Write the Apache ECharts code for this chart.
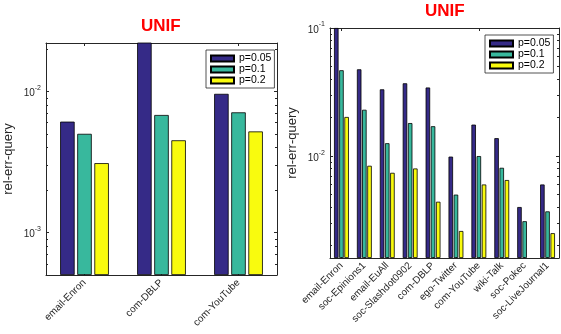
<!DOCTYPE html>
<html><head><meta charset="utf-8">
<script src="https://cdn.jsdelivr.net/npm/echarts@6/dist/echarts.min.js"></script>
<style>html,body{margin:0;padding:0;background:#fff}#c{width:561px;height:334px}</style>
</head><body><div id="c"></div>
<script>
const seriesNames = ['p=0.05', 'p=0.1', 'p=0.2'];
const leftCategories = ['email-Enron', 'com-DBLP', 'com-YouTube'];
const leftP005 = [0.0061, 0.030, 0.0096];
const leftP01 = [0.0050, 0.0068, 0.0071];
const leftP02 = [0.0031, 0.0045, 0.0052];
const rightCategories = ['email-Enron', 'soc-Epinions1', 'email-EuAll', 'soc-Slashdot0902', 'com-DBLP', 'ego-Twitter', 'com-YouTube', 'wiki-Talk', 'soc-Pokec', 'soc-LiveJournal1'];
const rightP005 = [0.1, 0.0476, 0.0332, 0.0370, 0.0343, 0.0099, 0.0176, 0.0138, 0.0040, 0.0060];
const rightP01 = [0.0468, 0.0230, 0.0126, 0.0181, 0.0171, 0.0050, 0.0100, 0.0081, 0.0031, 0.0037];
const rightP02 = [0.0202, 0.0084, 0.0074, 0.0080, 0.0044, 0.0026, 0.0060, 0.0065, 0.0015, 0.0025];
const leftYRange = [0.0005, 0.022];
const rightYRange = [0.0016, 0.1];
const titleText = 'UNIF';
const yName = 'rel-err-query';

const colors = ['#352a87', '#38b89d', '#f9fb0e'];
const axisColor = '#262626';

function powLabel(v) {
  const e = Math.log10(v);
  const r = Math.round(e);
  if (Math.abs(e - r) > 1e-6) return '';
  return '{b|10}{s|' + r + '}';
}
const richSup = {
  b: { fontSize: 10, color: axisColor, fontFamily: 'Liberation Sans', lineHeight: 14, verticalAlign: 'bottom' },
  s: { fontSize: 7, color: axisColor, fontFamily: 'Liberation Sans', lineHeight: 8, verticalAlign: 'top' }
};

function yAxes(gi, range) {
  return [{
    type: 'log', gridIndex: gi, min: range[0], max: range[1], startValue: range[0], logBase: 10,
    name: yName, nameLocation: 'middle', nameGap: 31,
    nameTextStyle: { fontSize: 13, color: axisColor, fontFamily: 'Liberation Sans' },
    axisLine: { show: true, lineStyle: { color: axisColor, width: 1 } },
    axisTick: { show: true, inside: true, length: 3, lineStyle: { color: axisColor } },
    minorTick: { show: true, splitNumber: 9, length: 2, lineStyle: { color: axisColor } },
    splitLine: { show: false }, minorSplitLine: { show: false },
    axisLabel: { formatter: powLabel, rich: richSup, margin: 5, showMinLabel: true, showMaxLabel: true }
  }, {
    type: 'log', gridIndex: gi, min: range[0], max: range[1], position: 'right', logBase: 10,
    axisLine: { show: true, lineStyle: { color: axisColor, width: 1 } },
    axisTick: { show: true, inside: true, length: 3, lineStyle: { color: axisColor } },
    minorTick: { show: true, splitNumber: 9, length: 2, lineStyle: { color: axisColor } },
    splitLine: { show: false }, minorSplitLine: { show: false },
    axisLabel: { show: false }
  }];
}
function xAxes(gi, cats) {
  return [{
    type: 'category', gridIndex: gi, data: cats, position: 'bottom',
    axisLine: { show: true, lineStyle: { color: axisColor, width: 1 } },
    axisTick: { show: true, inside: true, alignWithLabel: true, length: 3, lineStyle: { color: axisColor } },
    axisLabel: { rotate: 45, interval: 0, fontSize: 10, color: axisColor, fontFamily: 'Liberation Sans', margin: 6 }
  }, {
    type: 'category', gridIndex: gi, data: cats, position: 'top',
    axisLine: { show: true, lineStyle: { color: axisColor, width: 1 } },
    axisTick: { show: true, inside: true, alignWithLabel: true, length: 3, lineStyle: { color: axisColor } },
    axisLabel: { show: false }
  }];
}
function barSeries(gi, arrs, bw, gap) {
  return arrs.map((d, i) => ({
    type: 'bar', name: seriesNames[i], xAxisIndex: gi * 2, yAxisIndex: gi * 2, data: d,
    barWidth: bw, barGap: gap, clip: true,
    itemStyle: { color: colors[i], borderColor: '#000', borderWidth: 0.8 },
    emphasis: { disabled: true }
  }));
}
function legend(left, top) {
  return {
    data: seriesNames, orient: 'vertical', left: left, top: top,
    itemWidth: 23, itemHeight: 6, itemGap: 0, icon: 'rect',
    padding: [3, 3, 2, 4], borderColor: axisColor, borderWidth: 0.8, backgroundColor: '#fff',
    selectedMode: false,
    textStyle: { fontSize: 10.5, lineHeight: 10, color: '#000', fontFamily: 'Liberation Sans' }
  };
}

const chart = echarts.init(document.getElementById('c'), null, { renderer: 'canvas' });
chart.setOption({
  animation: false,
  backgroundColor: '#fff',
  title: [
    { text: titleText, left: 141, top: 18, padding: 0, textStyle: { color: '#ff0000', fontSize: 17, fontWeight: 'bold', fontFamily: 'Liberation Sans' } },
    { text: titleText, left: 425, top: 3, padding: 0, textStyle: { color: '#ff0000', fontSize: 17, fontWeight: 'bold', fontFamily: 'Liberation Sans' } }
  ],
  legend: [legend(206, 50), legend(485, 35)],
  grid: [
    { left: 46, top: 43, width: 231, height: 232, containLabel: false },
    { left: 330, top: 28, width: 229, height: 230, containLabel: false }
  ],
  xAxis: [].concat(xAxes(0, leftCategories), xAxes(1, rightCategories)),
  yAxis: [].concat(yAxes(0, leftYRange), yAxes(1, rightYRange)),
  series: [].concat(
    barSeries(0, [leftP005, leftP01, leftP02], 14.5, '18%'),
    barSeries(1, [rightP005, rightP01, rightP02], 4.5, '15%')
  )
});
</script></body></html>
